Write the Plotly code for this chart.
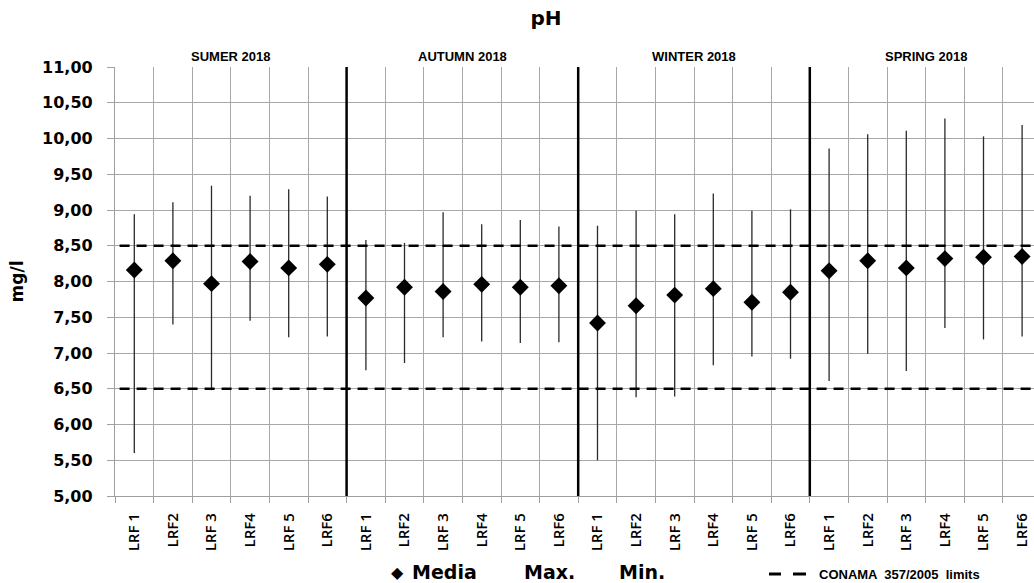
import plotly.graph_objects as go
import numpy as np

# ---------------- data ----------------
seasons = ["SUMER 2018", "AUTUMN 2018", "WINTER 2018", "SPRING 2018"]
sites = ["LRF 1", "LRF2", "LRF 3", "LRF4", "LRF 5", "LRF6"]

media_summer = [8.16, 8.29, 7.97, 8.28, 8.19, 8.24]
max_summer = [8.94, 9.11, 9.34, 9.20, 9.29, 9.19]
min_summer = [5.60, 7.40, 6.48, 7.45, 7.22, 7.23]

media_autumn = [7.77, 7.92, 7.86, 7.96, 7.92, 7.94]
max_autumn = [8.58, 8.54, 8.97, 8.80, 8.86, 8.77]
min_autumn = [6.76, 6.86, 7.22, 7.16, 7.14, 7.15]

media_winter = [7.42, 7.66, 7.81, 7.90, 7.71, 7.85]
max_winter = [8.78, 8.99, 8.94, 9.23, 8.99, 9.01]
min_winter = [5.50, 6.38, 6.39, 6.83, 6.95, 6.92]

media_spring = [8.15, 8.29, 8.19, 8.32, 8.34, 8.35]
max_spring = [9.86, 10.06, 10.11, 10.28, 10.03, 10.19]
min_spring = [6.61, 6.99, 6.75, 7.35, 7.19, 7.23]

conama_limits = [6.5, 8.5]
y_tick_values = [5.0, 5.5, 6.0, 6.5, 7.0, 7.5, 8.0, 8.5, 9.0, 9.5, 10.0, 10.5, 11.0]

# ---------------- build ----------------
media = np.array(media_summer + media_autumn + media_winter + media_spring)
vmax = np.array(max_summer + max_autumn + max_winter + max_spring)
vmin = np.array(min_summer + min_autumn + min_winter + min_spring)
labels = sites * len(seasons)
x = np.arange(len(labels))
n_sites = len(sites)

W, H = 1034, 583
L, R, T, B = 115, 0, 67, 87
pw, ph = W - L - R, H - T - B
cell = 38.6
x_range = [-0.5, -0.5 + pw / cell]

def px(xp):
    return (xp - L) / pw

def py(yp):
    return (H - B - yp) / ph

fig = go.Figure()
fig.add_trace(go.Scatter(
    x=x, y=media, mode="markers",
    marker=dict(symbol="diamond", size=13, color="black"),
    error_y=dict(type="data", symmetric=False,
                 array=vmax - media, arrayminus=media - vmin,
                 width=0, thickness=1.3, color="#2a2a2a"),
    showlegend=False, cliponaxis=False,
))

shapes = []
# CONAMA limits
for lim in conama_limits:
    shapes.append(dict(type="line", xref="paper", yref="y", x0=0.005, x1=1, y0=lim, y1=lim,
                       line=dict(color="black", width=2.5, dash="10px,7px")))
# season separators
for k in range(1, len(seasons)):
    xs = k * n_sites - 0.5
    shapes.append(dict(type="line", xref="x", yref="y", x0=xs, x1=xs, y0=5.0, y1=11.0,
                       line=dict(color="black", width=2.5)))
# legend dash sample (two dashes)
for a, b in [(769, 781), (793, 806)]:
    shapes.append(dict(type="line", xref="paper", yref="paper", x0=px(a), x1=px(b),
                       y0=py(574), y1=py(574), line=dict(color="black", width=3)))

annotations = []
for k, s in enumerate(seasons):
    annotations.append(dict(text=s, x=k * n_sites + (n_sites - 1) / 2, xref="x",
                            y=py(57), yref="paper", showarrow=False, yanchor="middle",
                            font=dict(family="Liberation Sans", size=13, color="black", weight="bold")))

legend_font = dict(family="DejaVu Sans", size=19, color="black", weight="bold")
ly = py(572)
annotations += [
    dict(text="◆", x=px(397), y=ly, xref="paper", yref="paper", showarrow=False,
         xanchor="center", yanchor="middle", font=dict(family="DejaVu Sans", size=16, color="black")),
    dict(text="Media", x=px(410), y=ly, xref="paper", yref="paper", showarrow=False,
         xanchor="left", yanchor="middle", font=legend_font),
    dict(text="Max.", x=px(522), y=ly, xref="paper", yref="paper", showarrow=False,
         xanchor="left", yanchor="middle", font=legend_font),
    dict(text="Min.", x=px(617), y=ly, xref="paper", yref="paper", showarrow=False,
         xanchor="left", yanchor="middle", font=legend_font),
    dict(text="CONAMA  357/2005  limits", x=px(817), y=py(574), xref="paper", yref="paper",
         showarrow=False, xanchor="left", yanchor="middle",
         font=dict(family="Liberation Sans", size=13, color="black", weight="bold")),
]

fig.update_layout(
    width=W, height=H,
    margin=dict(l=L, r=R, t=T, b=B, pad=0),
    plot_bgcolor="white", paper_bgcolor="white",
    separators=",.",
    title=dict(text="pH", x=546 / W, xref="container", xanchor="center",
               y=1 - 18 / H, yref="container", yanchor="middle",
               font=dict(family="DejaVu Sans", size=20, color="black", weight="bold")),
    shapes=shapes, annotations=annotations,
    showlegend=False,
)

fig.update_xaxes(
    range=x_range, tickmode="array", tickvals=x, ticktext=labels,
    tickangle=-90, ticks="", showgrid=False, zeroline=False,
    showline=True, linecolor="#a0a0a0", linewidth=1.3,
    tickfont=dict(family="Open Sans", size=15, color="black", weight=600),
    ticklabelstandoff=10,
    minor=dict(tick0=-0.5, dtick=1, showgrid=True, gridcolor="#a8a8a8", gridwidth=1.3,
               ticks="outside", ticklen=6, tickcolor="#a0a0a0", tickwidth=1.3),
)

fig.update_yaxes(
    range=[5, 11], tickmode="array", tickvals=y_tick_values, tickformat=".2f",
    showgrid=True, gridcolor="#a8a8a8", gridwidth=1.3, zeroline=False,
    showline=True, linecolor="#a0a0a0", linewidth=1.3,
    ticks="outside", ticklen=7, tickcolor="#a0a0a0", tickwidth=1.3,
    tickfont=dict(family="DejaVu Sans", size=16, color="black", weight="bold"),
    ticklabelstandoff=11,
    title=dict(text="mg/l", standoff=14,
               font=dict(family="DejaVu Sans", size=17, color="black", weight="bold")),
)

fig.write_html("out.html")
